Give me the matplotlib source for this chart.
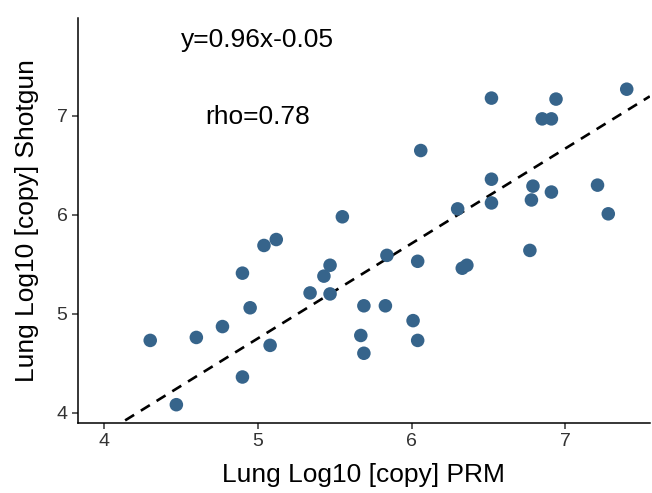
import matplotlib
matplotlib.use("Agg")
import matplotlib.pyplot as plt
import numpy as np

plt.rcParams['font.family'] = ['Liberation Sans', 'DejaVu Sans']

prm = [4.30, 4.47, 4.60, 4.77, 4.90, 4.90, 4.95, 5.04, 5.08, 5.12,
       5.34, 5.43, 5.47, 5.47, 5.55, 5.67, 5.69, 5.69, 5.83, 5.84,
       6.01, 6.04, 6.04, 6.06, 6.30, 6.33, 6.36, 6.52, 6.52, 6.52,
       6.77, 6.78, 6.79, 6.85, 6.91, 6.91, 6.94, 7.21, 7.28, 7.40]
shotgun = [4.73, 4.08, 4.76, 4.87, 5.41, 4.36, 5.06, 5.69, 4.68, 5.75,
           5.21, 5.38, 5.49, 5.20, 5.98, 4.78, 4.60, 5.08, 5.08, 5.59,
           4.93, 5.53, 4.73, 6.65, 6.06, 5.46, 5.49, 6.36, 6.12, 7.18,
           5.64, 6.15, 6.29, 6.97, 6.97, 6.23, 7.17, 6.30, 6.01, 7.27]
slope, intercept = 0.96, -0.05
eq_text = "y=0.96x-0.05"
rho_text = "rho=0.78"
xticks = [4, 5, 6, 7]
yticks = [4, 5, 6, 7]

fig = plt.figure(figsize=(6.52, 4.93), dpi=100)
ax = fig.add_axes([0.1196, 0.142, 0.877, 0.8215])
xlim = (3.83, 7.55)
ylim = (3.895, 7.99)
ax.set_xlim(*xlim)
ax.set_ylim(*ylim)

xs = np.array(xlim)
ax.plot(xs, slope * xs + intercept, color='black', linestyle=(0, (4, 3)), linewidth=1.9, zorder=1)
ax.scatter(prm, shotgun, s=95, color='#36648B', edgecolors='none', zorder=2)

ax.text(5.0, 7.77, eq_text, ha='center', va='center', fontsize=19)
ax.text(5.0, 6.99, rho_text, ha='center', va='center', fontsize=19)

ax.set_xticks(xticks)
ax.set_yticks(yticks)
ax.tick_params(labelsize=14, length=4, width=1.1, colors='#333333', labelcolor='#333333')
for s in ['top', 'right']:
    ax.spines[s].set_visible(False)
for s in ['left', 'bottom']:
    ax.spines[s].set_linewidth(1.1)
ax.set_xlabel("Lung Log10 [copy] PRM", fontsize=19, labelpad=9)
ax.set_ylabel("Lung Log10 [copy] Shotgun", fontsize=19, labelpad=13)

fig.savefig("out.png", dpi=100)
